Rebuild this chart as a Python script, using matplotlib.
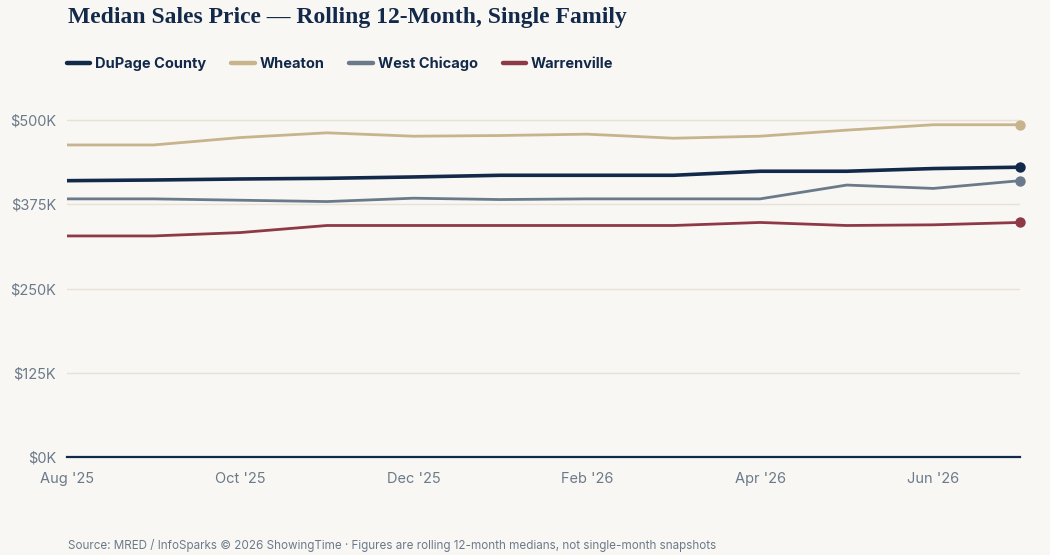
#!/usr/bin/env python

import numpy as np
from matplotlib import pyplot as plt
from matplotlib import ticker

plt.rcParams["font.family"] = ["Inter", "DejaVu Sans"]

months = ["Aug '25", "Sep '25", "Oct '25", "Nov '25", "Dec '25", "Jan '26",
          "Feb '26", "Mar '26", "Apr '26", "May '26", "Jun '26", "Jul '26"]

# rolling 12-month median sale price, $K
dupage = [410, 411, 412.5, 413.5, 415.5, 418, 418, 418, 424, 424, 428, 430]
wheaton = [463, 463, 474, 481, 476, 477, 479, 473, 476, 485, 493, 493]
west_chicago = [383, 383, 381, 379, 384, 382, 383, 383, 383, 403.5, 398.5, 410]
warrenville = [328, 328, 333, 343.5, 343.5, 343.5, 343.5, 343.5, 348, 343.5, 344.5, 348]

series = [
    ("DuPage County", dupage, "#12294a", 2.6),
    ("Wheaton", wheaton, "#c8b48c", 2.0),
    ("West Chicago", west_chicago, "#6b7a8a", 2.0),
    ("Warrenville", warrenville, "#8e3a46", 2.0),
]

bg = "#f9f7f3"
navy = "#12294a"
grey = "#6b7a8a"

fig = plt.figure(figsize=(10.5, 5.55), dpi=100, facecolor=bg)
ax = fig.add_axes([67 / 1050, 0.1766, 953 / 1050, 0.6375], facecolor=bg)

x = np.arange(len(months))
for name, vals, col, lw in series:
    ax.plot(x, vals, color=col, lw=lw, label=name, solid_capstyle="round")
    ax.plot(x[-1], vals[-1], "o", color=col, ms=7.5, mec="none", clip_on=False, zorder=6)

ax.set_xlim(0, len(months) - 1)
ax.set_ylim(0, 525)
ax.set_yticks([0, 125, 250, 375, 500])
ax.yaxis.set_major_formatter(ticker.FuncFormatter(lambda v, p: f"${v:.0f}K"))
ax.set_xticks(x[::2])
ax.set_xticklabels(months[::2])
ax.grid(axis="y", color="#e8e1d6", lw=1)
ax.set_axisbelow(True)
for s in ["top", "right", "left"]:
    ax.spines[s].set_visible(False)
ax.spines["bottom"].set_color(navy)
ax.spines["bottom"].set_linewidth(1.6)
ax.spines["bottom"].set_zorder(5)
ax.tick_params(axis="both", length=0, labelcolor=grey, labelsize=10.5)
ax.tick_params(axis="x", pad=11)
ax.tick_params(axis="y", pad=8)

fig.text(68 / 1050, 1 - 17 / 555, "Median Sales Price \u2014 Rolling 12-Month, Single Family",
         family=["Liberation Serif", "DejaVu Serif"], weight="bold", size=17,
         color=navy, va="center", ha="left")

leg = fig.legend(loc="center left", bbox_to_anchor=(67 / 1050, 1 - 64 / 555), ncol=4,
                 frameon=False, handlelength=1.6, handletextpad=0.35, columnspacing=1.7,
                 borderpad=0, borderaxespad=0,
                 prop={"weight": "bold", "size": 10.5})
for t in leg.get_texts():
    t.set_color(navy)
for h in leg.legend_handles:
    h.set_linewidth(3.2)

fig.text(68 / 1050, 1 - 545 / 555,
         "Source: MRED / InfoSparks \u00a9 2026 ShowingTime \u00b7 Figures are rolling 12-month medians, not single-month snapshots",
         size=8.4, color=grey, va="center", ha="left")

fig.savefig("out.png", facecolor=bg)
